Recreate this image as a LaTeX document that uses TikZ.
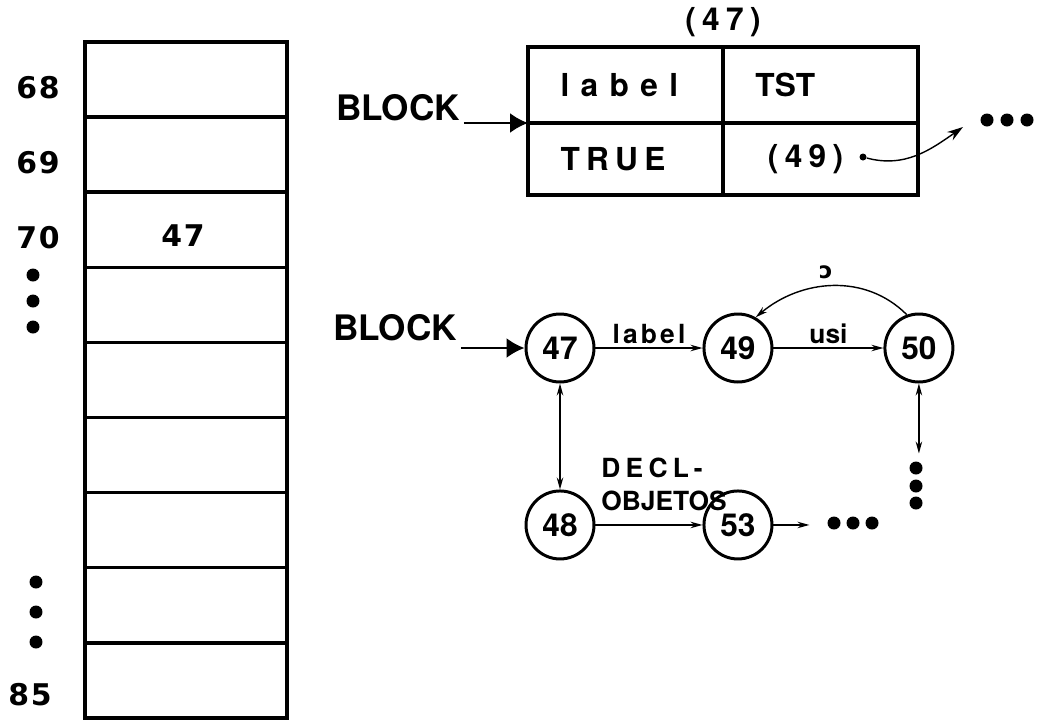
\documentclass[tikz,border=0pt]{standalone}
\usepackage{fontspec}
\setmainfont{TeX Gyre Heros}
\newfontfamily\spaced[LetterSpace=20]{TeX Gyre Heros}
\newfontfamily\wide[LetterSpace=6]{DejaVu Sans}
\newfontfamily\ipafont{DejaVu Sans}
\usetikzlibrary{arrows.meta, positioning, calc}
\tikzset{
  font=\bfseries\fontsize{18}{21}\selectfont,
  memcell/.style={draw, line width=2pt, minimum width=4.04cm, minimum height=1.502cm,
    inner sep=0pt, outer sep=0pt},
  addr/.style={inner sep=1pt, font=\wide\bfseries\fontsize{17}{20}\selectfont},
  tcell/.style={draw, line width=2pt, text width=2.6cm, inner xsep=0.65cm,
    align=left, outer sep=0pt},
  blocklabel/.style={font=\bfseries\fontsize{20}{22}\selectfont, inner sep=2pt},
  vertex/.style={circle, draw, line width=1.7pt, minimum size=1.36cm, inner sep=0pt,
    font=\bfseries\fontsize{18}{20}\selectfont},
  edgelabel/.style={font=\bfseries\fontsize{15}{19}\selectfont, inner sep=2pt},
  bullet/.style={circle, fill, inner sep=0pt, minimum size=0.26cm},
  link/.style={-{Stealth[length=0.24cm, width=0.13cm]}, line width=0.8pt},
  twoway/.style={{Stealth[length=0.24cm, width=0.13cm]}-{Stealth[length=0.24cm, width=0.13cm]},
    line width=0.8pt},
  bigarrow/.style={-{Latex[length=0.36cm, width=0.4cm]}, line width=1.3pt},
}

\begin{document}
\begin{tikzpicture}[x=0.02cm, y=-0.02cm, node distance=2.14cm]
  \useasboundingbox (0,0) rectangle (1037,721);

  % memory column
  \foreach \i in {1,...,9}
    \node[memcell] (cell\i) at (186, {42+75.1*(\i-0.5)}) {};
  \node[addr] (val) at ($(cell3.center)+(-3,6)$) {47};

  \foreach \n/\y in {68/88, 69/163, 70/238}
    \node[addr] (a\n) at (38,\y) {\n};
  \node[addr] (a85) at (30,695) {85};

  \foreach \y in {275,301,327}
    \node[bullet] at (33,\y) {};
  \foreach \y in {582,612,642}
    \node[bullet] at (36,\y) {};

  % block record
  \node[tcell, minimum height=1.52cm] (tl) at (625.5,85)
    {{\fontspec[LetterSpace=36]{TeX Gyre Heros}\bfseries label}};
  \node[tcell, minimum height=1.52cm, right=0pt of tl] (tr) {TST};
  \node[tcell, minimum height=1.44cm, below=0pt of tl] (bl) {\spaced TRUE};
  \node[tcell, minimum height=1.44cm, below=0pt of tr] (br) {\hspace*{0.25cm}\spaced (49)};
  \node[above=0.08cm of tl.north east, font=\spaced\bfseries\fontsize{18}{21}\selectfont] (title) {(47)};

  \node[blocklabel] (blk1) at (398,108) {BLOCK};
  \draw[bigarrow] (blk1.east |- tl.south west) -- (tl.south west);

  \node[circle, fill, inner sep=0pt, minimum size=0.14cm] (pdot) at (863,157) {};
  \coordinate (ptip) at (963,127);
  \draw[-{Stealth[length=0.32cm, width=0.2cm]}, line width=0.8pt]
    (pdot) to[out=-15, in=215] (ptip);
  \foreach \x [count=\k] in {987,1007,1027}
    \node[bullet] (r\k) at (\x,120) {};

  % block graph
  \node[blocklabel] (blk2) at (395,328) {BLOCK};
  \node[vertex] (n47) at (560,348) {47};
  \node[vertex, right=of n47] (n49) {49};
  \node[vertex, right=2.2cm of n49] (n50) {50};
  \node[vertex, below=2.12cm of n47] (n48) {48};
  \node[vertex, right=of n48] (n53) {53};

  \draw[bigarrow] (blk2.east |- n47.west) -- (n47.west);
  \draw[link] (n47) -- node[edgelabel, above]
    (lab1) {{\fontspec[LetterSpace=12]{TeX Gyre Heros}\bfseries label}} (n49);
  \draw[link] (n49) -- node[edgelabel, above] (lab2) {usi} (n50);
  \draw[link] (n50.110) to[out=135, in=40] (n49.60);
  \node[font=\ipafont\bfseries\fontsize{13}{13}\selectfont] (tick) at (826,272) {ɔ};

  \draw[twoway] (n47) -- (n48);
  \draw[link] (n48) -- (n53);
  \node[edgelabel, align=left, anchor=south west] (decl)
    at ($(n48.east)+(2,-10)$) {\spaced DECL-\\OBJETOS};

  \coordinate (down) at ($(n50.south)+(0,70)$);
  \draw[twoway] (n50) -- (down);
  \foreach \y in {468,486,503}
    \node[bullet] at (916,\y) {};

  \coordinate (more) at ($(n53.east)+(36,0)$);
  \draw[link] (n53) -- (more);
  \foreach \x in {834,853,872}
    \node[bullet] at (\x,523) {};
\end{tikzpicture}
\end{document}
